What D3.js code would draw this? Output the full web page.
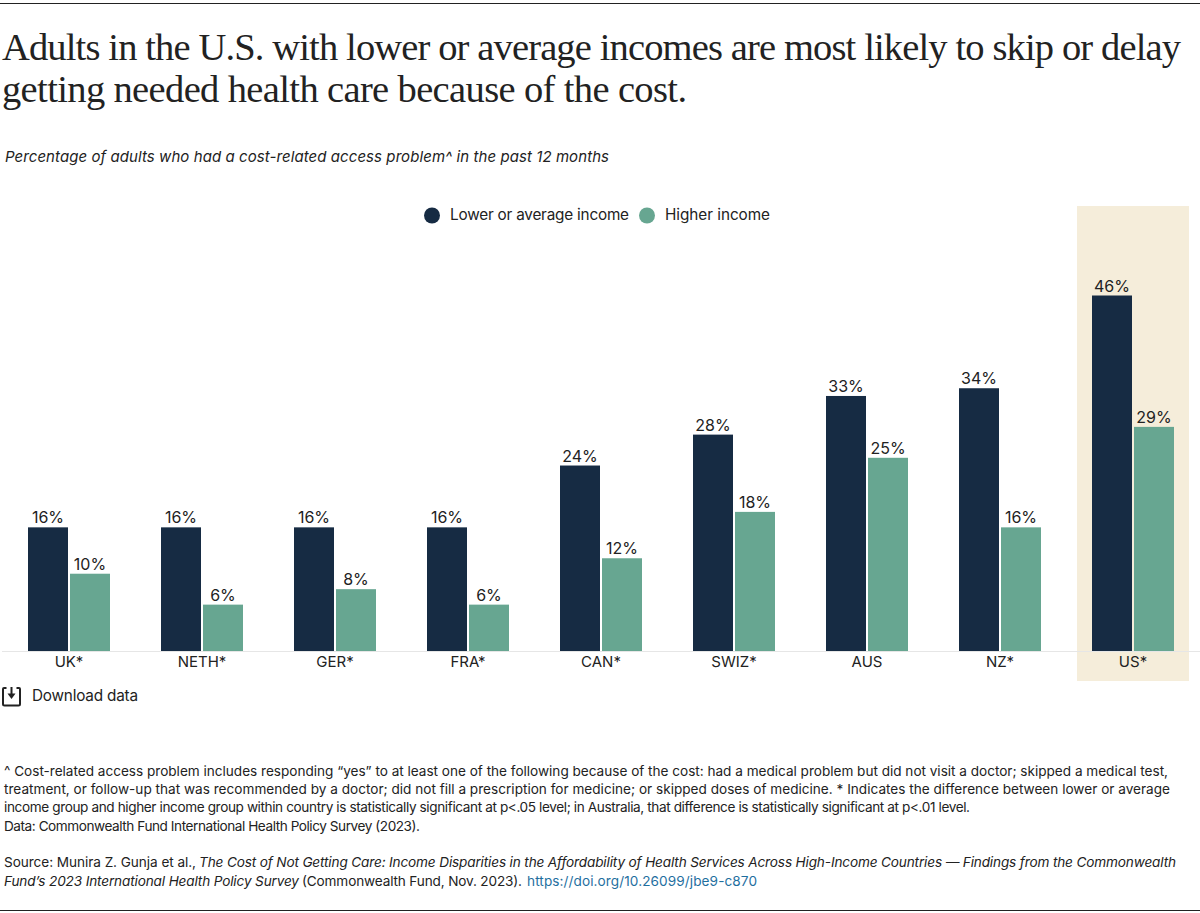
<!DOCTYPE html>
<html><head><meta charset="utf-8">
<script src="https://cdn.jsdelivr.net/npm/d3@7"></script>
<style>html,body{margin:0;padding:0;background:#fff}svg{display:block}</style>
</head><body><svg id="c" width="1200" height="913"></svg>
<script>
const categories=["UK*","NETH*","GER*","FRA*","CAN*","SWIZ*","AUS","NZ*","US*"];
const seriesNames=["Lower or average income","Higher income"];
const lowerIncome=[16,16,16,16,24,28,33,34,46];
const higherIncome=[10,6,8,6,12,18,25,16,29];
const seriesColors=["#162b43","#67a691"];
const titleLines=["Adults in the U.S. with lower or average incomes are most likely to skip or delay","getting needed health care because of the cost."];
const subtitle="Percentage of adults who had a cost-related access problem^ in the past 12 months";
const notes=["^ Cost-related access problem includes responding “yes” to at least one of the following because of the cost: had a medical problem but did not visit a doctor; skipped a medical test,","treatment, or follow-up that was recommended by a doctor; did not fill a prescription for medicine; or skipped doses of medicine. * Indicates the difference between lower or average","income group and higher income group within country is statistically significant at p<.05 level; in Australia, that difference is statistically significant at p<.01 level.","Data: Commonwealth Fund International Health Policy Survey (2023)."];

const SANS="Inter, 'Noto Sans', sans-serif", SERIF="'Liberation Serif', serif", INK="#222";
const svg=d3.select("#c");
const fit=(sel,w)=>{ if(w) sel.attr("textLength",w).attr("lengthAdjust","spacing"); return sel; };
const txt=(x,y,s,size,opt={})=>fit(svg.append("text").attr("x",x).attr("y",y).text(s)
  .attr("font-family",opt.family||SANS).attr("font-size",size).attr("fill",opt.fill||INK)
  .attr("font-style",opt.style||null).attr("text-anchor",opt.anchor||"start"),opt.w);

svg.append("rect").attr("x",0).attr("y",3).attr("width",1200).attr("height",1).attr("fill","#222");
svg.append("rect").attr("x",0).attr("y",910).attr("width",1200).attr("height",1).attr("fill","#222");

txt(2,60,titleLines[0],38.5,{family:SERIF,w:1179});
txt(2,102,titleLines[1],38.5,{family:SERIF,w:685});
txt(5,162,subtitle,15,{style:"italic",w:604});

svg.append("rect").attr("x",1077).attr("y",206).attr("width",112).attr("height",475).attr("fill","#f5edda");

const x0=d3.scaleBand().domain(categories).range([2.5,1199.5]);
const x1=d3.scaleBand().domain(seriesNames).range([25.5,107.5]).paddingInner(2/42);
const y=d3.scaleLinear().domain([0,46]).range([651,295.5]);
const color=d3.scaleOrdinal().domain(seriesNames).range(seriesColors);
const rows=categories.flatMap((c,i)=>[{c,s:seriesNames[0],v:lowerIncome[i]},{c,s:seriesNames[1],v:higherIncome[i]}]);

svg.append("g").selectAll("rect").data(rows).join("rect")
  .attr("x",d=>x0(d.c)+x1(d.s)).attr("width",x1.bandwidth())
  .attr("y",d=>y(d.v)).attr("height",d=>y(0)-y(d.v)).attr("fill",d=>color(d.s));
svg.append("g").selectAll("text").data(rows).join("text")
  .attr("x",d=>x0(d.c)+x1(d.s)+x1.bandwidth()/2).attr("y",d=>y(d.v)-4)
  .attr("text-anchor","middle").attr("font-family",SANS).attr("font-size",16).attr("fill",INK)
  .text(d=>d.v+"%");

const axis=svg.append("g").attr("transform","translate(0,651.5)")
  .call(d3.axisBottom(x0).tickSize(0).tickPadding(5));
axis.select(".domain").remove();
axis.append("line").attr("x1",2).attr("x2",1200).attr("stroke","#e6e6e6");
axis.selectAll(".tick text").attr("font-family",SANS).attr("font-size",15).attr("fill",INK);
axis.raise();

const legend=[[432,450,seriesNames[0],179],[647,665,seriesNames[1],105]];
legend.forEach((l,i)=>{
  svg.append("circle").attr("cx",l[0]).attr("cy",215.5).attr("r",8).attr("fill",seriesColors[i]);
  txt(l[1],220,l[2],15.3,{w:l[3]});
});

// download icon
const ic=svg.append("g").attr("fill","none").attr("stroke","#222").attr("stroke-width",2);
ic.append("path").attr("d","M6.5 688H4Q3 688 3 689V704Q3 705.5 4.5 705.5H18.5Q20 705.5 20 704V689Q20 688 19 688H16.5");
ic.append("path").attr("d","M11.5 687V695");
svg.append("path").attr("d","M7.5 693.5H15.5L11.5 699Z").attr("fill","#222");
txt(32,701,"Download data",15.3,{w:106});

const nw=[1164,1166,966,416];
notes.forEach((n,i)=>txt(4,776+18.2*i,n,13.6,{w:nw[i]}));

txt(4,867,"Source: Munira Z. Gunja et al., ",13.6,{w:192});
txt(199,867,"The Cost of Not Getting Care: Income Disparities in the Affordability of Health Services Across High-Income Countries — Findings from the Commonwealth",13.6,{style:"italic",w:977});
txt(4,886,"Fund’s 2023 International Health Policy Survey",13.6,{style:"italic",w:295});
txt(302,886,"(Commonwealth Fund, Nov. 2023).",13.6,{w:220});
txt(527,886,"https://doi.org/10.26099/jbe9-c870",13.6,{fill:"#1f6f9f",w:230});
</script></body></html>
